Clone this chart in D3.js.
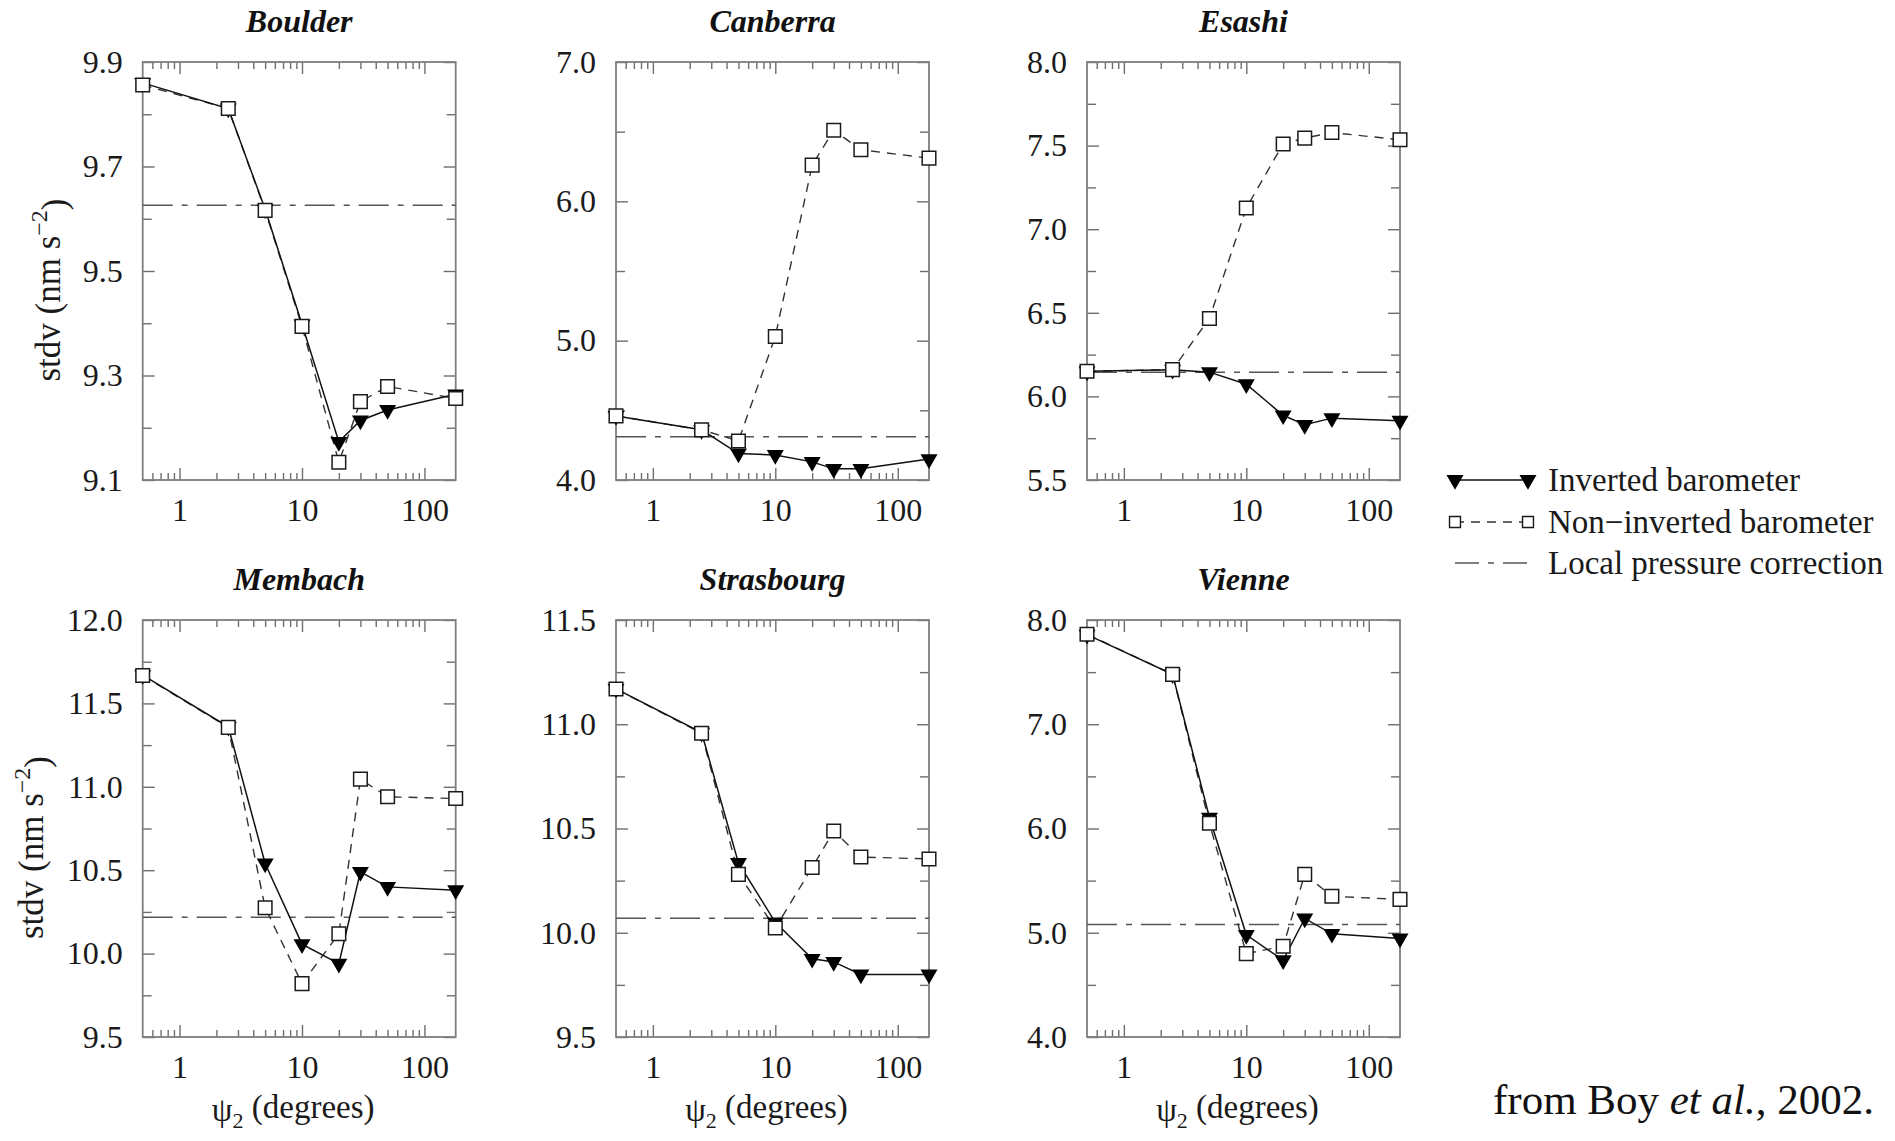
<!DOCTYPE html>
<html>
<head>
<meta charset="utf-8">
<script src="https://cdn.jsdelivr.net/npm/d3@7"></script>
<style>
  body { margin: 0; background: #fff; }
  svg { display: block; font-family: 'Liberation Serif','Times New Roman',serif; }
</style>
</head>
<body>
<svg id="fig" width="1895" height="1141"></svg>
<script>
// Spherical cap radius psi2 (degrees) used for the regional pressure correction
const psiDeg = [0.5, 2.5, 5, 10, 20, 30, 50, 180];

const stationNames = ["Boulder", "Canberra", "Esashi", "Membach", "Strasbourg", "Vienne"];

// Standard deviation of gravity residuals (nm s^-2)
const boulderInv        = [9.860, 9.811, 9.618, 9.398, 9.173, 9.214, 9.234, 9.264];
const boulderNonInv     = [9.856, 9.811, 9.616, 9.394, 9.134, 9.250, 9.279, 9.256];
const canberraInv       = [4.46, 4.36, 4.19, 4.18, 4.13, 4.08, 4.08, 4.15];
const canberraNonInv    = [4.46, 4.36, 4.28, 5.03, 6.26, 6.51, 6.37, 6.31];
const esashiInv         = [6.150, 6.160, 6.145, 6.073, 5.887, 5.830, 5.870, 5.855];
const esashiNonInv      = [6.150, 6.160, 6.466, 7.127, 7.510, 7.545, 7.578, 7.535];
const membachInv        = [11.67, 11.36, 10.54, 10.057, 9.94, 10.49, 10.40, 10.38];
const membachNonInv     = [11.667, 11.356, 10.275, 9.82, 10.119, 11.046, 10.94, 10.93];
const strasbourgInv     = [11.17, 10.96, 10.335, 10.05, 9.875, 9.86, 9.80, 9.80];
const strasbourgNonInv  = [11.169, 10.957, 10.28, 10.023, 10.313, 10.488, 10.363, 10.354];
const vienneInv         = [7.86, 7.48, 6.105, 4.98, 4.736, 5.137, 4.99, 4.946];
const vienneNonInv      = [7.864, 7.478, 6.05, 4.80, 4.87, 5.56, 5.35, 5.32];

// Result with the local (station) pressure admittance, one per station
const localPressure = [9.626, 4.31, 6.145, 10.218, 10.069, 5.08];

// Labelled y ticks per station (first and last give the axis range)
const boulderTicks    = [9.1, 9.3, 9.5, 9.7, 9.9];
const canberraTicks   = [4.0, 5.0, 6.0, 7.0];
const esashiTicks     = [5.5, 6.0, 6.5, 7.0, 7.5, 8.0];
const membachTicks    = [9.5, 10.0, 10.5, 11.0, 11.5, 12.0];
const strasbourgTicks = [9.5, 10.0, 10.5, 11.0, 11.5];
const vienneTicks     = [4.0, 5.0, 6.0, 7.0, 8.0];

const xTicks = [1, 10, 100];

const legendLabels = ["Inverted barometer", "Non\u2212inverted barometer", "Local pressure correction"];

// ---------------------------------------------------------------------------
const FONT = "'Liberation Serif','Times New Roman',serif";
const svg = d3.select("#fig");

const colLeft = [142.7, 616, 1087];
const panelW = 313;
const rowTop = [62, 620];
const rowH = [418, 417];
const yTitleX = [60, 43];

const panels = [
  { inv: boulderInv,    non: boulderNonInv,    ticks: boulderTicks },
  { inv: canberraInv,   non: canberraNonInv,   ticks: canberraTicks },
  { inv: esashiInv,     non: esashiNonInv,     ticks: esashiTicks },
  { inv: membachInv,    non: membachNonInv,    ticks: membachTicks },
  { inv: strasbourgInv, non: strasbourgNonInv, ticks: strasbourgTicks },
  { inv: vienneInv,     non: vienneNonInv,     ticks: vienneTicks }
].map((p, i) => Object.assign(p, { name: stationNames[i], lpc: localPressure[i] }));

// minor log ticks: 0.6..0.9, 2..9, 20..90
const xMinor = [];
[0.1, 1, 10].forEach(dec => {
  for (let k = 2; k <= 9; k++) {
    const v = +(k * dec).toFixed(3);
    if (v > 0.5 && v < 180 && !xTicks.includes(v)) xMinor.push(v);
  }
});

const FRAME = "#7e7e7e";
const TICK = "#6e6e6e";
const DASH_NON = "9,7";
const DASH_LPC = "30,9,6,9";

const triPath = d3.symbol(d3.symbolTriangle, 125)();
const sqPath = d3.symbol(d3.symbolSquare, 185)();

function styleAxis(sel, showText) {
  sel.select(".domain").remove();
  sel.attr("font-family", FONT);
  sel.selectAll(".tick line").attr("stroke", TICK).attr("stroke-width", 1.4);
  if (showText) {
    sel.selectAll(".tick text")
      .attr("fill", "#1a1a1a")
      .attr("font-family", FONT)
      .style("font-family", FONT)
      .style("font-size", "32px");
  } else {
    sel.selectAll(".tick text").remove();
  }
}

panels.forEach((p, i) => {
  const col = i % 3, row = Math.floor(i / 3);
  const w = panelW, h = rowH[row];
  const g = svg.append("g").attr("transform", `translate(${colLeft[col]},${rowTop[row]})`);

  const x = d3.scaleLog().domain([0.5, 180]).range([0, w]);
  const y = d3.scaleLinear().domain([p.ticks[0], p.ticks[p.ticks.length - 1]]).range([h, 0]);
  const yMinor = d3.pairs(p.ticks).map(([a, b]) => (a + b) / 2);

  // y axes (left labelled, right mirrored), ticks pointing inward
  g.append("g").call(d3.axisLeft(y).tickValues(p.ticks).tickSize(-12).tickPadding(20).tickFormat(d3.format(".1f")))
    .call(s => styleAxis(s, true));
  g.append("g").call(d3.axisLeft(y).tickValues(yMinor).tickSize(-9).tickFormat(""))
    .call(s => styleAxis(s, false));
  g.append("g").attr("transform", `translate(${w},0)`)
    .call(d3.axisRight(y).tickValues(p.ticks).tickSize(-12).tickFormat(""))
    .call(s => styleAxis(s, false));
  g.append("g").attr("transform", `translate(${w},0)`)
    .call(d3.axisRight(y).tickValues(yMinor).tickSize(-9).tickFormat(""))
    .call(s => styleAxis(s, false));

  // x axes (bottom labelled, top mirrored)
  g.append("g").attr("transform", `translate(0,${h})`)
    .call(d3.axisBottom(x).tickValues(xTicks).tickSize(-12).tickPadding(18).tickFormat(d3.format("d")))
    .call(s => styleAxis(s, true));
  g.append("g").attr("transform", `translate(0,${h})`)
    .call(d3.axisBottom(x).tickValues(xMinor).tickSize(-7).tickFormat(""))
    .call(s => styleAxis(s, false));
  g.append("g")
    .call(d3.axisTop(x).tickValues(xTicks).tickSize(-12).tickFormat(""))
    .call(s => styleAxis(s, false));
  g.append("g")
    .call(d3.axisTop(x).tickValues(xMinor).tickSize(-7).tickFormat(""))
    .call(s => styleAxis(s, false));

  // frame
  g.append("rect").attr("width", w).attr("height", h)
    .attr("fill", "none").attr("stroke", FRAME).attr("stroke-width", 1.8);

  // local pressure correction level
  g.append("line")
    .attr("x1", 0).attr("x2", w)
    .attr("y1", y(p.lpc)).attr("y2", y(p.lpc))
    .attr("stroke", "#555").attr("stroke-width", 1.5)
    .attr("stroke-dasharray", DASH_LPC);

  const line = d3.line().x(d => x(d[0])).y(d => y(d[1]));
  const invPts = d3.zip(psiDeg, p.inv);
  const nonPts = d3.zip(psiDeg, p.non);

  g.append("path").attr("d", line(nonPts))
    .attr("fill", "none").attr("stroke", "#333").attr("stroke-width", 1.4)
    .attr("stroke-dasharray", DASH_NON);
  g.append("path").attr("d", line(invPts))
    .attr("fill", "none").attr("stroke", "#111").attr("stroke-width", 1.5);

  g.selectAll(".tri").data(invPts).join("path")
    .attr("d", triPath)
    .attr("transform", d => `translate(${x(d[0])},${y(d[1])}) rotate(180)`)
    .attr("fill", "#000");
  g.selectAll(".sq").data(nonPts).join("path")
    .attr("d", sqPath)
    .attr("transform", d => `translate(${x(d[0])},${y(d[1])})`)
    .attr("fill", "#fff").attr("stroke", "#1a1a1a").attr("stroke-width", 1.5);

  // station title
  svg.append("text")
    .attr("x", colLeft[col] + w / 2).attr("y", rowTop[row] - 30)
    .attr("text-anchor", "middle")
    .style("font-family", FONT).style("font-size", "32px")
    .style("font-weight", "bold").style("font-style", "italic")
    .attr("fill", "#111")
    .text(p.name);

  // y-axis title on the first column
  if (col === 0) {
    const t = svg.append("text")
      .attr("transform", `translate(${yTitleX[row]},${rowTop[row] + h / 2 + 19}) rotate(-90)`)
      .attr("text-anchor", "middle")
      .style("font-family", FONT).style("font-size", "35px")
      .attr("fill", "#1a1a1a");
    t.append("tspan").text("stdv (nm s");
    t.append("tspan").attr("dy", "-0.55em").style("font-size", "24px").text("\u22122");
    t.append("tspan").attr("dy", "0.55em").text(")");
  }

  // x-axis title on the bottom row
  if (row === 1) {
    const t = svg.append("text")
      .attr("x", colLeft[col] + w / 2 - 6).attr("y", rowTop[row] + h + 84)
      .attr("text-anchor", "middle")
      .style("font-family", FONT).style("font-size", "33px")
      .attr("fill", "#1a1a1a");
    t.append("tspan").text("\u03C8");
    t.append("tspan").attr("dy", "0.3em").style("font-size", "22px").text("2");
    t.append("tspan").attr("dy", "-0.3em").text(" (degrees)");
  }
});

// legend
const legX1 = 1455, legX2 = 1528, legText = 1548;
const legY = [480, 522, 563];
const lg = svg.append("g");

lg.append("line").attr("x1", legX1).attr("x2", legX2).attr("y1", legY[0]).attr("y2", legY[0])
  .attr("stroke", "#111").attr("stroke-width", 1.5);
[legX1, legX2].forEach(cx => lg.append("path").attr("d", triPath)
  .attr("transform", `translate(${cx},${legY[0]}) rotate(180)`).attr("fill", "#000"));

lg.append("line").attr("x1", legX1).attr("x2", legX2).attr("y1", legY[1]).attr("y2", legY[1])
  .attr("stroke", "#333").attr("stroke-width", 1.4).attr("stroke-dasharray", DASH_NON);
[legX1, legX2].forEach(cx => lg.append("path").attr("d", d3.symbol(d3.symbolSquare, 120)())
  .attr("transform", `translate(${cx},${legY[1]})`)
  .attr("fill", "#fff").attr("stroke", "#1a1a1a").attr("stroke-width", 1.4));

lg.append("line").attr("x1", legX1).attr("x2", legX2).attr("y1", legY[2]).attr("y2", legY[2])
  .attr("stroke", "#555").attr("stroke-width", 1.5).attr("stroke-dasharray", "24,9,6,9");

legendLabels.forEach((lab, k) => {
  lg.append("text").attr("x", legText).attr("y", legY[k] + 11)
    .style("font-family", FONT).style("font-size", "33px").attr("fill", "#1a1a1a")
    .text(lab);
});

// source note
const src = svg.append("text").attr("x", 1493).attr("y", 1114)
  .style("font-family", FONT).style("font-size", "43px").attr("fill", "#111");
src.append("tspan").text("from Boy ");
src.append("tspan").style("font-style", "italic").text("et al.");
src.append("tspan").text(", 2002.");
</script>
</body>
</html>
